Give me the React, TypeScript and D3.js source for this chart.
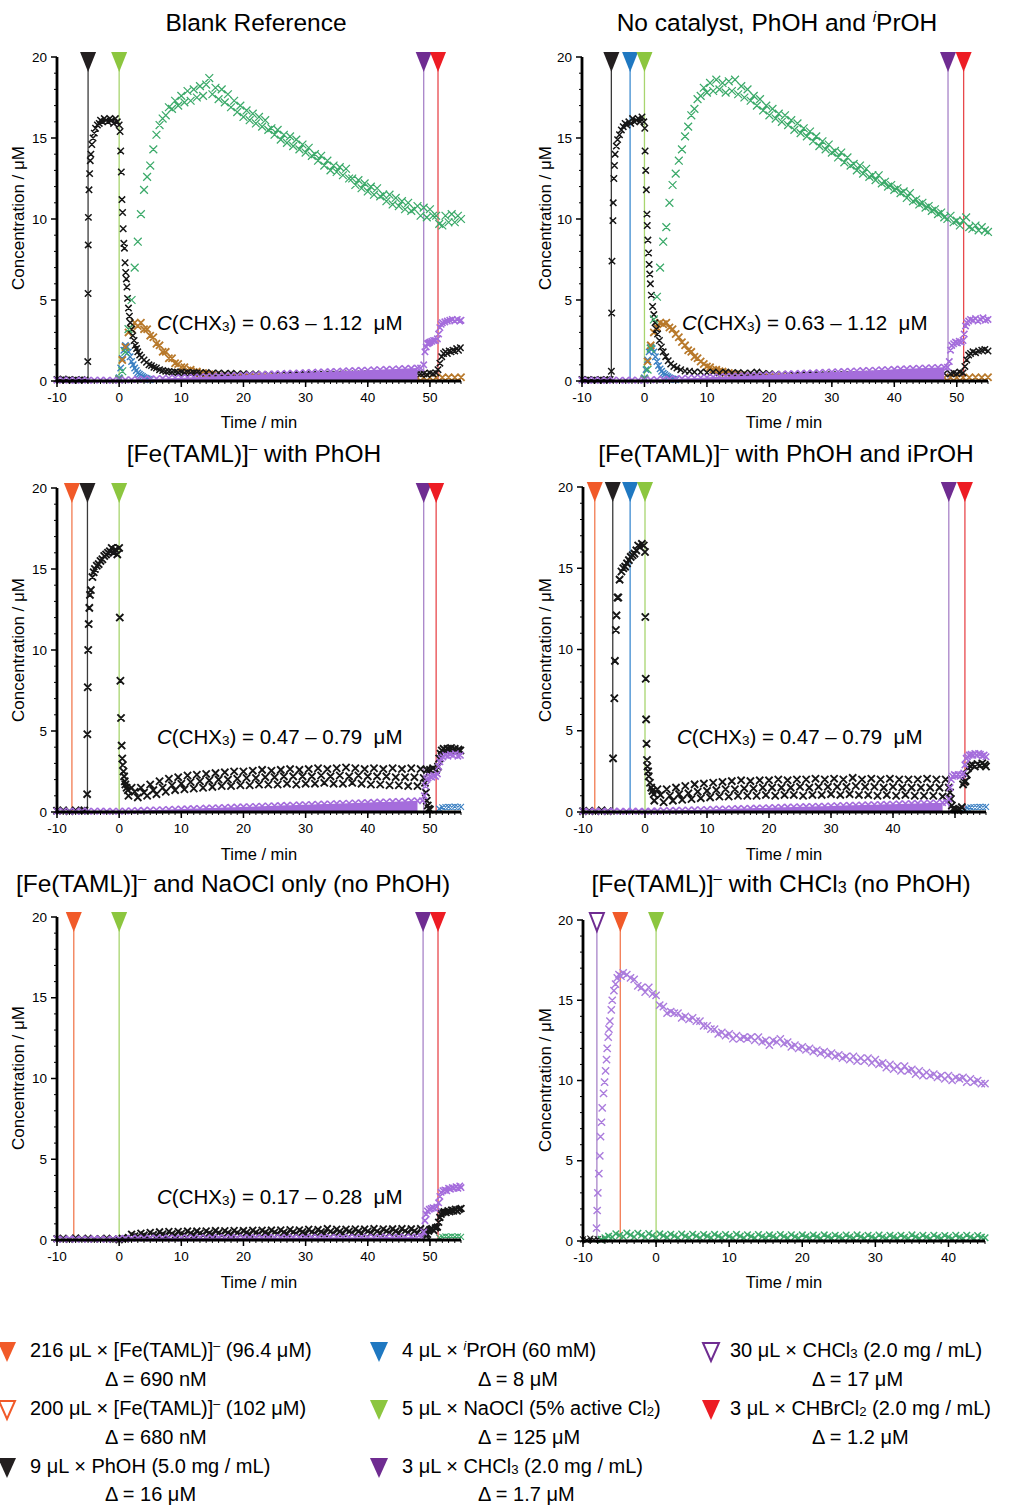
import React from "react";
import * as d3 from "d3";

type Pt = [number, number];

const grid = (t0: number, dt: number, ys: number[]): Pt[] => ys.map((y, i) => [t0 + i * dt, y] as Pt);

// ---------- Blank Reference ----------
const blankBlack: Pt[] = [
  [-10, 0.1], [-9.5, 0.05], [-9, 0.12], [-8.5, 0.06], [-8, 0.1], [-7.5, 0.05], [-7, 0.08], [-6.5, 0.05], [-6, 0.1], [-5.5, 0.06],
  [-5.05, 1.2], [-5, 5.4], [-4.98, 8.4], [-4.95, 10.1], [-4.85, 11.8], [-4.75, 12.8], [-4.65, 13.6], [-4.55, 14.0], [-4.4, 14.6],
  [-4.2, 15.0], [-4.0, 15.3], [-3.8, 15.6], [-3.5, 15.8], [-3.2, 15.9], [-3.0, 16.1], [-2.7, 16.0], [-2.4, 16.2], [-2.1, 16.1],
  [-1.8, 16.0], [-1.5, 16.2], [-1.2, 16.1], [-0.9, 15.9], [-0.6, 16.2], [-0.3, 16.0], [0, 15.8],
  [0.15, 15.4], [0.25, 14.2], [0.35, 12.9], [0.45, 11.2], [0.55, 10.4], [0.65, 9.4], [0.75, 8.5], [0.85, 8.2], [0.95, 7.3],
  [1.05, 6.7], [1.15, 6.3], [1.25, 5.8], [1.35, 5.1], [1.5, 4.5], [1.65, 4.0], [1.8, 3.6], [2.0, 3.2], [2.2, 2.8], [2.4, 2.5],
  [2.6, 2.2], [2.8, 2.0], [3.0, 1.8], [3.3, 1.6], [3.6, 1.45], [4.0, 1.3], [4.4, 1.15], [4.8, 1.0], [5.2, 0.95], [5.6, 0.85],
  [6.0, 0.8], [6.5, 0.7], [7.0, 0.65], [7.5, 0.6], [8, 0.58], [8.5, 0.55], [9, 0.56], [9.5, 0.52], [10, 0.55], [10.5, 0.5],
  [11, 0.54], [11.5, 0.5], [12, 0.52], [12.5, 0.5],
];
const blankBlackTail = grid(13, 1, [0.5, 0.52, 0.48, 0.5, 0.46, 0.48, 0.44, 0.45, 0.42, 0.43, 0.4, 0.41, 0.39, 0.4, 0.38, 0.39, 0.38, 0.4,
  0.39, 0.41, 0.4, 0.42, 0.41, 0.43, 0.42, 0.44, 0.43, 0.45, 0.44, 0.46, 0.45, 0.47, 0.46, 0.48, 0.47, 0.48]);
const blankBlackEnd: Pt[] = [[48.5, 0.45], [49, 0.45], [49.5, 0.4], [50, 0.5], [50.5, 0.45], [51, 0.5], [51.3, 0.7], [51.6, 1.1],
  [51.9, 1.5], [52.2, 1.7], [52.5, 1.8], [52.8, 1.7], [53.1, 1.85], [53.4, 1.8], [53.7, 1.9], [54, 1.85], [54.3, 2.0], [54.6, 1.9], [54.9, 2.05]];
const blankGreen = grid(0, 0.5, [0.1, 0.6, 1.8, 3.2, 5.0, 7.0, 8.6, 10.3, 11.8, 12.6,
  13.3, 14.3, 15.2, 15.8, 16.2, 16.4, 16.9, 16.8, 17.3, 17.0,
  17.6, 17.2, 17.9, 17.3, 18.0, 17.5, 18.2, 17.6, 18.3, 18.7,
  17.7, 18.1, 17.4, 18.0, 17.2, 17.7, 16.9, 17.3, 16.6, 17.0,
  16.3, 16.7, 16.1, 16.5, 15.9, 16.3, 15.7, 16.1, 15.5, 15.6,
  15.2, 15.5, 14.9, 15.2, 14.7, 15.1, 14.5, 14.9, 14.3, 14.6,
  14.1, 14.4, 13.9, 14.0, 13.6, 13.9, 13.3, 13.6, 13.0, 13.3,
  12.9, 13.2, 12.7, 13.1, 12.5, 12.5, 12.1, 12.4, 11.9, 12.2,
  11.7, 12.0, 11.5, 11.9, 11.4, 11.5, 11.1, 11.5, 10.9, 11.3,
  10.8, 11.1, 10.6, 11.0, 10.5, 10.6, 10.8, 10.2, 10.7, 10.1,
  10.6, 10.2, 10.2, 9.7, 9.6, 10.2, 9.8, 10.3, 9.8, 10.2, 10.0]);
const blankBrown = grid(0, 0.5, [0.1, 1.3, 2.1, 3.0, 3.2, 3.6, 3.4, 3.6, 3.2, 3.2, 2.8, 2.7, 2.3, 2.2, 1.8, 1.8, 1.4, 1.4, 1.1,
  1.05, 0.85, 0.85, 0.65, 0.7, 0.55, 0.58, 0.48, 0.5, 0.4, 0.42, 0.35, 0.36, 0.3, 0.32, 0.28, 0.3, 0.26]);
const blankBrownTail = grid(19, 1, [0.25, 0.24, 0.25, 0.23, 0.24, 0.22, 0.23, 0.22, 0.21, 0.22, 0.21, 0.2, 0.21, 0.2, 0.21, 0.2, 0.19,
  0.2, 0.21, 0.2, 0.19, 0.2, 0.21, 0.2, 0.2, 0.19, 0.2, 0.21, 0.2, 0.2, 0.21, 0.22, 0.21, 0.22, 0.23, 0.22, 0.23]);
const blankBlue = grid(0, 0.25, [0.2, 0.8, 1.4, 1.9, 2.2, 2.1, 1.8, 1.5, 1.2, 1.0, 0.8, 0.65, 0.5, 0.42, 0.35, 0.28, 0.22, 0.18, 0.14, 0.1, 0.08]);
const blankPurple = grid(-10, 1, [0.05, 0.06, 0.05, 0.04, 0.06, 0.05, 0.05, 0.06, 0.04, 0.05, 0.05,
  0.07, 0.08, 0.1, 0.11, 0.13, 0.14, 0.16, 0.17, 0.19, 0.2,
  0.22, 0.23, 0.25, 0.27, 0.28, 0.3, 0.31, 0.33, 0.34, 0.36,
  0.38, 0.39, 0.41, 0.42, 0.44, 0.45, 0.47, 0.48, 0.5, 0.52,
  0.53, 0.55, 0.56, 0.58, 0.59, 0.61, 0.63, 0.64, 0.66, 0.67,
  0.69, 0.7, 0.72, 0.73, 0.75, 0.77, 0.78, 0.8]);
const blankPurpleEnd: Pt[] = [[48.5, 0.8], [49, 1.0], [49.2, 1.8], [49.4, 2.1], [49.6, 2.3], [49.8, 2.35], [50, 2.4], [50.3, 2.45],
  [50.6, 2.5], [50.9, 2.5], [51.2, 2.6], [51.4, 2.9], [51.6, 3.3], [51.8, 3.5], [52, 3.6], [52.4, 3.65], [52.8, 3.7], [53.2, 3.75],
  [53.6, 3.8], [54, 3.7], [54.4, 3.8], [54.8, 3.7], [55, 3.75]];
const blankInj: [string, number][] = [["phoh", -5], ["naocl", 0], ["chcl3", 49], ["chbrcl2", 51.3]];

// ---------- No catalyst, PhOH and iPrOH ----------
const ncBlack: Pt[] = [
  [-10, 0.1], [-9.5, 0.05], [-9, 0.1], [-8.5, 0.05], [-8, 0.08], [-7.5, 0.05], [-7, 0.1], [-6.5, 0.05], [-6, 0.08], [-5.5, 0.1],
  [-5.3, 0.6], [-5.25, 4.2], [-5.2, 7.4], [-5.05, 9.9], [-5.0, 11.0], [-4.9, 12.5], [-4.8, 13.3], [-4.7, 14.0], [-4.5, 14.5],
  [-4.3, 14.9], [-4.0, 15.2], [-3.7, 15.5], [-3.4, 15.7], [-3.1, 15.9], [-2.8, 15.8], [-2.5, 16.0], [-2.2, 15.9], [-1.9, 16.2],
  [-1.6, 16.0], [-1.3, 16.1], [-1.0, 16.2], [-0.7, 16.0], [-0.4, 16.3], [-0.1, 16.0], [0.05, 15.6], [0.1, 14.2], [0.2, 13.0],
  [0.3, 11.8], [0.4, 10.3], [0.45, 9.6], [0.55, 8.7], [0.65, 7.9], [0.75, 7.2], [0.85, 6.6], [0.95, 6.0], [1.1, 5.3], [1.3, 4.6],
  [1.5, 4.1], [1.7, 3.6], [1.9, 3.2], [2.1, 2.9], [2.4, 2.5], [2.7, 2.1], [3.0, 1.8], [3.4, 1.5], [3.8, 1.25], [4.2, 1.05],
  [4.7, 0.9], [5.2, 0.8], [5.8, 0.7], [6.5, 0.62], [7.2, 0.6], [8, 0.55], [9, 0.55], [10, 0.52], [11, 0.55], [12, 0.5],
];
const ncBlackTail = grid(13, 1, [0.55, 0.5, 0.52, 0.48, 0.5, 0.55, 0.47, 0.45, 0.42, 0.4, 0.4, 0.38, 0.39, 0.37, 0.38, 0.37, 0.38,
  0.39, 0.38, 0.4, 0.39, 0.41, 0.4, 0.42, 0.41, 0.43, 0.42, 0.44, 0.43, 0.45, 0.44, 0.46, 0.45, 0.47, 0.46, 0.47]);
const ncBlackEnd: Pt[] = [[49, 0.45], [49.5, 0.5], [50, 0.45], [50.5, 0.55], [51, 0.5], [51.3, 0.9], [51.6, 1.3], [51.9, 1.6],
  [52.2, 1.7], [52.6, 1.8], [53, 1.75], [53.5, 1.85], [54, 1.9], [54.5, 1.95], [55, 1.85]];
const ncGreen = grid(0, 0.5, [0.1, 0.7, 2.0, 3.8, 5.2, 7.0, 8.6, 9.5, 11.0, 12.1,
  12.8, 13.6, 14.3, 15.1, 15.7, 16.4, 16.8, 17.4, 17.6, 18.1,
  17.8, 18.4, 17.9, 18.6, 18.0, 18.4, 17.8, 18.5, 17.9, 18.6,
  17.7, 18.2, 17.5, 18.0, 17.3, 17.6, 17.0, 17.4, 16.7, 17.0,
  16.4, 16.8, 16.2, 16.5, 16.0, 16.4, 15.8, 16.1, 15.5, 15.9,
  15.3, 15.6, 15.1, 15.4, 14.8, 15.1, 14.5, 14.8, 14.3, 14.6,
  14.1, 14.2, 13.8, 14.1, 13.5, 13.8, 13.3, 13.4, 13.0, 13.3,
  12.8, 13.1, 12.6, 12.7, 12.4, 12.7, 12.2, 12.3, 12.0, 12.1,
  11.8, 11.9, 11.6, 11.7, 11.3, 11.6, 11.1, 11.2, 10.9, 11.0,
  10.7, 10.8, 10.5, 10.6, 10.3, 10.4, 10.1, 10.0, 10.2, 9.8,
  9.9, 9.6, 9.9, 10.1, 9.5, 9.4, 9.6, 9.3, 9.5, 9.3, 9.2]);
const ncBrown = grid(0, 0.5, [0.1, 1.2, 2.2, 3.0, 3.3, 3.6, 3.5, 3.6, 3.3, 3.2, 2.9, 2.7, 2.4, 2.2, 1.9, 1.8, 1.5, 1.4, 1.2,
  1.05, 0.9, 0.85, 0.7, 0.7, 0.6, 0.58, 0.5, 0.5, 0.42, 0.42, 0.36, 0.36, 0.32, 0.32, 0.29, 0.3, 0.27]);
const ncBrownTail = grid(19, 1, [0.25, 0.24, 0.23, 0.24, 0.22, 0.23, 0.22, 0.21, 0.22, 0.2, 0.21, 0.2, 0.2, 0.21, 0.19, 0.2, 0.2,
  0.21, 0.2, 0.19, 0.2, 0.2, 0.21, 0.2, 0.19, 0.2, 0.21, 0.2, 0.21, 0.2, 0.22, 0.21, 0.22, 0.22, 0.23, 0.22, 0.23]);
const ncBlue = grid(0, 0.25, [0.2, 0.7, 1.3, 1.8, 2.1, 2.0, 1.8, 1.5, 1.2, 0.95, 0.75, 0.6, 0.48, 0.4, 0.32, 0.26, 0.2, 0.16, 0.12, 0.1, 0.08]);
const ncPurple = grid(-10, 1, [0.05, 0.05, 0.06, 0.04, 0.05, 0.06, 0.05, 0.04, 0.06, 0.05, 0.05,
  0.07, 0.09, 0.1, 0.12, 0.14, 0.15, 0.17, 0.19, 0.2, 0.22,
  0.24, 0.25, 0.27, 0.29, 0.3, 0.32, 0.34, 0.35, 0.37, 0.39,
  0.4, 0.42, 0.44, 0.45, 0.47, 0.49, 0.5, 0.52, 0.54, 0.55,
  0.57, 0.59, 0.6, 0.62, 0.64, 0.65, 0.67, 0.69, 0.7, 0.72,
  0.74, 0.75, 0.77, 0.79, 0.8, 0.82, 0.83, 0.85]);
const ncPurpleEnd: Pt[] = [[48.5, 0.85], [48.8, 1.2], [49, 1.9], [49.2, 2.2], [49.5, 2.3], [49.8, 2.4], [50.1, 2.35], [50.4, 2.45],
  [50.7, 2.4], [51, 2.5], [51.2, 2.9], [51.4, 3.4], [51.6, 3.6], [51.9, 3.7], [52.2, 3.8], [52.6, 3.75], [53, 3.85], [53.4, 3.7],
  [53.8, 3.8], [54.2, 3.9], [54.6, 3.75], [55, 3.8]];
const ncInj: [string, number][] = [["phoh", -5.3], ["iproh", -2.3], ["naocl", 0], ["chcl3", 48.6], ["chbrcl2", 51.1]];

// ---------- [Fe(TAML)]- with PhOH ----------
const feBlack: Pt[] = [
  [-10, 0.08], [-9, 0.1], [-8, 0.05], [-7, 0.1], [-6, 0.08], [-5.6, 0.1],
  [-5.15, 1.1], [-5.12, 4.8], [-5.05, 7.7], [-4.98, 10.0], [-4.9, 11.6], [-4.8, 12.6], [-4.7, 13.4], [-4.55, 13.7], [-4.3, 14.5],
  [-4.1, 14.8], [-3.9, 15.0], [-3.6, 15.2], [-3.3, 15.3], [-3.0, 15.5], [-2.7, 15.6], [-2.4, 15.8], [-2.1, 15.9], [-1.8, 16.0],
  [-1.5, 16.1], [-1.2, 16.3], [-0.9, 16.0], [-0.6, 16.2], [-0.3, 15.9], [0, 16.3],
  [0.1, 12.0], [0.2, 8.1], [0.3, 5.8], [0.4, 4.1], [0.5, 3.3], [0.6, 2.9], [0.7, 2.5], [0.8, 2.2], [0.9, 1.9], [1.0, 1.7],
  [1.2, 1.5], [1.4, 1.35],
];
const feBlackBand = grid(1.5, 0.5, [1.0, 1.5, 1.25, 0.9, 1.5, 1.2, 1.0, 1.7, 1.35, 1.1, 1.9, 1.5, 1.25, 2.05, 1.65, 1.35, 2.15, 1.75,
  1.4, 2.25, 1.85, 1.45, 2.3, 1.9, 1.5, 2.35, 1.95, 1.55, 2.4, 2.0, 1.6, 2.45, 2.0, 1.6, 2.5, 2.05, 1.65, 2.5, 2.1, 1.65, 2.55, 2.1,
  1.7, 2.6, 2.15, 1.7, 2.55, 2.15, 1.7, 2.6, 2.2, 1.75, 2.65, 2.2, 1.7, 2.6, 2.2, 1.75, 2.65, 2.2, 1.75, 2.7, 2.25, 1.8, 2.65, 2.2,
  1.75, 2.7, 2.25, 1.75, 2.75, 2.2, 1.8, 2.7, 2.25, 1.75, 2.65, 2.2, 1.7, 2.7, 2.2, 1.7, 2.65, 2.2, 1.65, 2.7, 2.15, 1.65, 2.65, 2.15,
  1.6, 2.7, 2.15, 1.6, 2.65, 2.1]);
const feBlackEnd: Pt[] = [[49.2, 1.8], [49.35, 1.2], [49.5, 0.7], [49.65, 0.4], [49.8, 0.2], [50, 0.15], [49.5, 2.6], [50, 2.6],
  [50.5, 2.7], [51, 2.6], [51.3, 2.8], [51.5, 3.3], [51.7, 3.6], [51.9, 3.8], [52.2, 3.9], [52.5, 3.8], [52.8, 3.9], [53.1, 3.85],
  [53.4, 3.95], [53.7, 3.8], [54, 3.9], [54.3, 3.75], [54.6, 3.85], [54.9, 3.8]];
const fePurple = grid(-10, 1, [0.05, 0.06, 0.05, 0.04, 0.06, 0.05, 0.05, 0.06, 0.04, 0.05, 0.05,
  0.06, 0.08, 0.09, 0.1, 0.12, 0.13, 0.14, 0.16, 0.17, 0.18,
  0.2, 0.21, 0.22, 0.24, 0.25, 0.26, 0.28, 0.29, 0.3, 0.32,
  0.33, 0.34, 0.36, 0.37, 0.38, 0.4, 0.41, 0.42, 0.44, 0.45,
  0.46, 0.48, 0.49, 0.5, 0.52, 0.53, 0.54, 0.56, 0.57, 0.58,
  0.6, 0.61, 0.62, 0.64, 0.65, 0.66, 0.68, 0.69]);
const fePurpleEnd: Pt[] = [[48.8, 0.7], [49.1, 1.0], [49.3, 1.6], [49.5, 2.0], [49.7, 2.1], [50, 2.2], [50.3, 2.15], [50.6, 2.25],
  [50.9, 2.2], [51.2, 2.35], [51.4, 2.8], [51.6, 3.1], [51.8, 3.3], [52.1, 3.4], [52.5, 3.5], [52.9, 3.45], [53.3, 3.55], [53.7, 3.5],
  [54.1, 3.6], [54.5, 3.45], [54.9, 3.5]];
const feTeal = grid(51.5, 0.5, [0.2, 0.28, 0.3, 0.32, 0.3, 0.33, 0.3, 0.32]);
const feInj: [string, number][] = [["fe216", -7.6], ["phoh", -5.1], ["naocl", 0], ["chcl3", 49], ["chbrcl2", 51]];

// ---------- [Fe(TAML)]- with PhOH and iPrOH ----------
const feIpBlack: Pt[] = [
  [-10, 0.05], [-9, 0.08], [-8, 0.05], [-7, 0.1], [-6, 0.05],
  [-5.15, 3.3], [-4.95, 7.0], [-4.85, 9.3], [-4.7, 11.2], [-4.6, 12.1], [-4.45, 13.2], [-4.3, 13.2], [-4.1, 14.3], [-3.8, 14.8],
  [-3.5, 15.0], [-3.2, 15.1], [-2.9, 15.3], [-2.6, 15.5], [-2.3, 15.7], [-2.0, 15.8], [-1.7, 15.9], [-1.4, 16.1], [-1.1, 16.4],
  [-0.8, 16.3], [-0.5, 16.5], [-0.2, 16.4], [0, 16.0],
  [0.05, 12.0], [0.12, 8.2], [0.18, 5.7], [0.25, 4.2], [0.32, 3.2], [0.4, 2.8], [0.5, 2.5], [0.6, 2.2], [0.8, 1.8], [1.0, 1.5],
  [1.2, 1.3], [1.4, 1.1],
];
const feIpBlackBand = grid(1.5, 0.5, [0.7, 1.4, 1.05, 0.6, 1.4, 1.0, 0.7, 1.5, 1.1, 0.75, 1.6, 1.15, 0.8, 1.7, 1.25, 0.85, 1.75, 1.3,
  0.9, 1.8, 1.35, 0.95, 1.85, 1.4, 0.95, 1.9, 1.4, 1.0, 1.95, 1.45, 1.0, 1.9, 1.45, 1.0, 1.95, 1.5, 1.05, 1.95, 1.5, 1.0, 2.0, 1.5,
  1.05, 1.95, 1.5, 1.05, 2.0, 1.55, 1.0, 2.0, 1.5, 1.05, 2.05, 1.55, 1.05, 2.0, 1.55, 1.1, 2.05, 1.55, 1.05, 2.0, 1.55, 1.1, 2.1, 1.6,
  1.05, 2.0, 1.55, 1.05, 2.05, 1.55, 1.0, 2.0, 1.5, 1.05, 2.05, 1.55, 1.0, 2.0, 1.5, 1.05, 2.0, 1.5, 1.0, 2.0, 1.5, 1.0, 2.05, 1.5,
  1.0, 2.0, 1.5, 0.95, 2.0, 1.5]);
const feIpBlackEnd: Pt[] = [[49.2, 1.2], [49.35, 0.8], [49.5, 0.4], [49.7, 0.2], [50, 0.15], [50.4, 0.12], [50.8, 0.15], [51.1, 0.3],
  [51.3, 1.7], [51.5, 1.85], [51.7, 1.9], [51.9, 2.3], [52.1, 2.7], [52.4, 2.85], [52.8, 2.9], [53.2, 2.8], [53.6, 2.95], [54, 2.85],
  [54.4, 3.0], [54.8, 2.9], [55, 2.8]];
const feIpPurple = grid(-10, 1, [0.05, 0.05, 0.06, 0.04, 0.05, 0.06, 0.05, 0.04, 0.06, 0.05, 0.05,
  0.06, 0.07, 0.08, 0.09, 0.1, 0.11, 0.12, 0.13, 0.14, 0.15,
  0.17, 0.18, 0.19, 0.2, 0.21, 0.22, 0.23, 0.24, 0.25, 0.26,
  0.28, 0.29, 0.3, 0.31, 0.32, 0.33, 0.34, 0.35, 0.36, 0.37,
  0.39, 0.4, 0.41, 0.42, 0.43, 0.44, 0.45, 0.46, 0.47, 0.48,
  0.5, 0.51, 0.52, 0.53, 0.54, 0.55, 0.56, 0.57]);
const feIpPurpleEnd: Pt[] = [[48.6, 0.6], [49, 0.8], [49.2, 1.5], [49.4, 2.0], [49.6, 2.2], [49.9, 2.3], [50.2, 2.25], [50.5, 2.3],
  [50.8, 2.2], [51.1, 2.3], [51.4, 2.4], [51.6, 2.9], [51.8, 3.3], [52, 3.4], [52.3, 3.5], [52.6, 3.55], [52.9, 3.5], [53.2, 3.6],
  [53.5, 3.5], [53.8, 3.6], [54.1, 3.55], [54.4, 3.45], [54.7, 3.5], [55, 3.4]];
const feIpTeal = grid(51.5, 0.5, [0.2, 0.25, 0.28, 0.3, 0.3, 0.32, 0.3, 0.32]);
const feIpInj: [string, number][] = [["fe216", -8.1], ["phoh", -5.2], ["iproh", -2.4], ["naocl", 0], ["chcl3", 49], ["chbrcl2", 51.6]];

// ---------- [Fe(TAML)]- and NaOCl only ----------
const feOnlyBlackPre = grid(-10, 1, [0.08, 0.1, 0.05, 0.12, 0.08, 0.1, 0.06, 0.08, 0.1, 0.05]);
const feOnlyBlack = grid(0, 0.5, [0.02, 0.1, 0.06, 0.15, 0.35, 0.25, 0.2, 0.42, 0.3, 0.22, 0.46, 0.33, 0.25, 0.5, 0.36, 0.27, 0.52, 0.38,
  0.28, 0.52, 0.4, 0.3, 0.55, 0.41, 0.3, 0.55, 0.42, 0.31, 0.56, 0.43, 0.32, 0.58, 0.44, 0.32, 0.57, 0.44, 0.33, 0.59, 0.45,
  0.34, 0.58, 0.46, 0.34, 0.6, 0.46, 0.35, 0.6, 0.47, 0.36, 0.61, 0.48, 0.36, 0.62, 0.48, 0.37, 0.63, 0.49, 0.37, 0.62, 0.5,
  0.38, 0.66, 0.5, 0.38, 0.64, 0.51, 0.39, 0.7, 0.52, 0.39, 0.66, 0.52, 0.4, 0.66, 0.53, 0.4, 0.68, 0.53, 0.41, 0.67, 0.54,
  0.41, 0.7, 0.54, 0.42, 0.68, 0.55, 0.42, 0.69, 0.55, 0.42, 0.7, 0.56, 0.43, 0.69, 0.56, 0.43, 0.7, 0.56]);
const feOnlyBlackEnd: Pt[] = [[49.2, 0.4], [49.4, 0.25], [49.6, 0.35], [49.8, 0.55], [50, 0.65], [50.3, 0.7], [50.6, 0.6], [50.9, 0.75],
  [51.2, 0.8], [51.4, 1.1], [51.6, 1.4], [51.8, 1.6], [52, 1.7], [52.3, 1.75], [52.6, 1.7], [52.9, 1.8], [53.2, 1.75], [53.5, 1.85],
  [53.8, 1.8], [54.1, 1.9], [54.4, 1.8], [54.7, 1.9], [55, 1.95]];
const feOnlyPurple = grid(-10, 1, [0.06, 0.05, 0.07, 0.05, 0.06, 0.05, 0.07, 0.06, 0.05, 0.06,
  0.08, 0.1, 0.1, 0.12, 0.11, 0.12, 0.13, 0.12, 0.13, 0.12,
  0.13, 0.14, 0.13, 0.14, 0.13, 0.14, 0.15, 0.14, 0.15, 0.14,
  0.15, 0.14, 0.15, 0.16, 0.15, 0.16, 0.15, 0.16, 0.15, 0.16,
  0.16, 0.17, 0.16, 0.17, 0.16, 0.17, 0.16, 0.17, 0.16, 0.17,
  0.17, 0.16, 0.17, 0.18, 0.17, 0.18, 0.17, 0.18, 0.17]);
const feOnlyPurpleEnd: Pt[] = [[48.6, 0.2], [49, 0.5], [49.2, 1.2], [49.4, 1.6], [49.6, 1.8], [49.9, 1.9], [50.2, 1.95], [50.5, 2.0],
  [50.8, 1.95], [51.1, 2.05], [51.4, 2.3], [51.6, 2.7], [51.8, 2.95], [52.1, 3.05], [52.4, 3.1], [52.7, 3.05], [53, 3.2], [53.3, 3.15],
  [53.6, 3.25], [53.9, 3.2], [54.2, 3.3], [54.5, 3.2], [54.8, 3.35], [55, 3.25]];
const feOnlyGreen = grid(51.5, 0.5, [0.15, 0.2, 0.22, 0.2, 0.22, 0.2, 0.22, 0.2]);
const feOnlyInj: [string, number][] = [["fe216", -7.3], ["naocl", 0], ["chcl3", 48.9], ["chbrcl2", 51.3]];

// ---------- [Fe(TAML)]- with CHCl3 ----------
const chBlack = grid(-10, 0.5, [0.1, 0.05, 0.15, 0.08, 0.12, 0.05, 0.1]);
const chPurpleRise: Pt[] = [[-8.15, 0.8], [-8.06, 1.9], [-7.97, 3.0], [-7.83, 4.2], [-7.7, 5.3], [-7.6, 6.5], [-7.47, 7.4], [-7.37, 8.3],
  [-7.19, 9.2], [-7.05, 9.9], [-6.91, 10.6], [-6.78, 11.3], [-6.69, 12.0], [-6.55, 12.7], [-6.45, 13.2], [-6.32, 13.7], [-6.13, 14.4],
  [-6.0, 15.0], [-5.77, 15.6], [-5.54, 16.0], [-5.31, 16.4], [-5.08, 16.6], [-4.8, 16.5], [-4.5, 16.7]];
const chPurple = grid(-4, 0.5, [16.6, 16.4, 16.3, 15.9, 15.8, 15.5, 15.8, 15.4, 15.3, 14.7,
  14.6, 14.2, 14.3, 14.2, 14.2, 13.9, 14.0, 13.8, 13.9, 13.7,
  13.7, 13.4, 13.4, 13.2, 13.2, 12.9, 13.0, 12.8, 12.9, 12.6,
  12.8, 12.6, 12.7, 12.6, 12.7, 12.5, 12.7, 12.4, 12.5, 12.2,
  12.5, 12.4, 12.6, 12.3, 12.4, 12.1, 12.2, 12.0, 12.1, 11.9,
  12.0, 11.8, 11.9, 11.7, 11.8, 11.6, 11.7, 11.5, 11.6, 11.4,
  11.5, 11.3, 11.5, 11.2, 11.4, 11.2, 11.4, 11.1, 11.3, 11.0,
  11.1, 10.8, 11.0, 10.7, 10.9, 10.6, 10.9, 10.6, 10.7, 10.4,
  10.6, 10.3, 10.5, 10.3, 10.4, 10.2, 10.3, 10.1, 10.3, 10.0,
  10.2, 10.1, 10.2, 9.9, 10.1, 9.9, 10.0, 9.8, 9.8]);
const chGreen = grid(-7.5, 0.5, [0.1, 0.2, 0.3, 0.25, 0.45, 0.35, 0.28, 0.5, 0.38, 0.25, 0.48, 0.36, 0.24, 0.46, 0.34, 0.22, 0.44, 0.33,
  0.23, 0.42, 0.32, 0.2, 0.43, 0.3, 0.22, 0.42, 0.31, 0.2, 0.4, 0.3, 0.21, 0.41, 0.3, 0.2, 0.4, 0.29, 0.19, 0.41, 0.3, 0.2, 0.39, 0.29,
  0.19, 0.4, 0.28, 0.2, 0.38, 0.29, 0.18, 0.4, 0.28, 0.19, 0.39, 0.27, 0.18, 0.38, 0.28, 0.19, 0.37, 0.27, 0.17, 0.38, 0.27, 0.18,
  0.36, 0.26, 0.17, 0.37, 0.26, 0.18, 0.38, 0.27, 0.17, 0.36, 0.26, 0.16, 0.37, 0.25, 0.17, 0.35, 0.26, 0.16, 0.36, 0.25, 0.17, 0.38,
  0.26, 0.16, 0.35, 0.25, 0.15, 0.36, 0.24, 0.16, 0.34, 0.25, 0.15, 0.35, 0.24, 0.16, 0.36, 0.25, 0.15, 0.34, 0.24, 0.2]);
const chInj: [string, number][] = [["chcl3big", -8.1], ["fe216", -4.9], ["naocl", 0]];

// ---------- legend ----------
const legendCols = [
  [["fe216", "216 μL × [Fe(TAML)]^{–} (96.4 μM)", "Δ = 690 nM"],
   ["fe200", "200 μL × [Fe(TAML)]^{–} (102 μM)", "Δ = 680 nM"],
   ["phoh", "9 μL × PhOH (5.0 mg / mL)", "Δ = 16 μM"]],
  [["iproh", "4 μL × ~{i}PrOH (60 mM)", "Δ = 8 μM"],
   ["naocl", "5 μL × NaOCl (5% active Cl_{2})", "Δ = 125 μM"],
   ["chcl3", "3 μL × CHCl_{3} (2.0 mg / mL)", "Δ = 1.7 μM"]],
  [["chcl3big", "30 μL × CHCl_{3} (2.0 mg / mL)", "Δ = 17 μM"],
   ["chbrcl2", "3 μL × CHBrCl_{2} (2.0 mg / mL)", "Δ = 1.2 μM"]],
];

// ---------- styles ----------
const FONT = "'Liberation Sans', Arial, Helvetica, sans-serif";
const BLACK = "#161616";
const GREEN = "#3caa6a";
const BROWN = "#b8792b";
const BLUE = "#3b80c3";
const PURPLE = "#a56ddc";
const PURPLE6 = "#ab7cdd";

const INJ: Record<string, { fill: string; line: string; hollow?: boolean }> = {
  fe216: { fill: "#f15a29", line: "#f27a50" },
  fe200: { fill: "#f15a29", line: "#f27a50", hollow: true },
  phoh: { fill: "#231f20", line: "#3a3a3a" },
  iproh: { fill: "#1f78c1", line: "#3d8bd0" },
  naocl: { fill: "#8cc63f", line: "#a8d56f" },
  chcl3: { fill: "#6f2c91", line: "#a883c8" },
  chcl3big: { fill: "#6f2c91", line: "#a883c8", hollow: true },
  chbrcl2: { fill: "#ed1c24", line: "#e8484c" },
};

type Series = { pts: Pt[]; color: string; s?: number; w?: number; area?: boolean };

const panels = [
  {
    title: "Blank Reference", tx: 256, ty: 31, xDomain: [-10, 55], xRange: [57, 461], yRange: [381, 57],
    labels: [-10, 0, 10, 20, 30, 40, 50], xt: [259, 428], yt: [24, 218], triOff: 5,
    note: "*{C}(CHX_{3}) = 0.63 – 1.12\u00a0\u00a0μM", nx: 157, ny: 330, inj: blankInj,
    series: [
      { pts: blankBlue, color: BLUE, s: 3.2, w: 1.4 },
      { pts: [...blankBrown, ...blankBrownTail], color: BROWN, s: 3.6, w: 1.8 },
      { pts: [...blankBlack, ...blankBlackTail, ...blankBlackEnd], color: BLACK, s: 3.2, w: 1.5 },
      { pts: blankGreen, color: GREEN, s: 3.9, w: 1.25 },
      { pts: blankPurple, color: PURPLE, area: true },
      { pts: [...blankPurple, ...blankPurpleEnd], color: PURPLE, s: 3.2, w: 1.6 },
    ] as Series[],
  },
  {
    title: "No catalyst, PhOH and ~{i}PrOH", tx: 777, ty: 31, xDomain: [-10, 55], xRange: [582, 988], yRange: [381, 57],
    labels: [-10, 0, 10, 20, 30, 40, 50], xt: [784, 428], yt: [551, 218], triOff: 5,
    note: "*{C}(CHX_{3}) = 0.63 – 1.12\u00a0\u00a0μM", nx: 682, ny: 330, inj: ncInj,
    series: [
      { pts: ncBlue, color: BLUE, s: 3.2, w: 1.4 },
      { pts: [...ncBrown, ...ncBrownTail], color: BROWN, s: 3.6, w: 1.8 },
      { pts: [...ncBlack, ...ncBlackTail, ...ncBlackEnd], color: BLACK, s: 3.2, w: 1.5 },
      { pts: ncGreen, color: GREEN, s: 3.9, w: 1.25 },
      { pts: ncPurple, color: PURPLE, area: true },
      { pts: [...ncPurple, ...ncPurpleEnd], color: PURPLE, s: 3.2, w: 1.6 },
    ] as Series[],
  },
  {
    title: "[Fe(TAML)]^{–} with PhOH", tx: 254, ty: 462, xDomain: [-10, 55], xRange: [57, 461], yRange: [812, 488],
    labels: [-10, 0, 10, 20, 30, 40, 50], xt: [259, 860], yt: [24, 650], triOff: 5,
    note: "*{C}(CHX_{3}) = 0.47 – 0.79\u00a0\u00a0μM", nx: 157, ny: 744, inj: feInj,
    series: [
      { pts: feTeal, color: BLUE, s: 3 },
      { pts: [...feBlack, ...feBlackBand, ...feBlackEnd], color: BLACK, s: 3.6, w: 1.9 },
      { pts: fePurple, color: PURPLE, area: true },
      { pts: [...fePurple, ...fePurpleEnd], color: PURPLE, s: 3.2, w: 1.6 },
    ] as Series[],
  },
  {
    title: "[Fe(TAML)]^{–} with PhOH and iPrOH", tx: 786, ty: 462, xDomain: [-10, 55], xRange: [583, 986], yRange: [812, 487],
    labels: [-10, 0, 10, 20, 30, 40], xt: [784, 860], yt: [551, 650], triOff: 5,
    note: "*{C}(CHX_{3}) = 0.47 – 0.79\u00a0\u00a0μM", nx: 677, ny: 744, inj: feIpInj,
    series: [
      { pts: feIpTeal, color: BLUE, s: 3 },
      { pts: [...feIpBlack, ...feIpBlackBand, ...feIpBlackEnd], color: BLACK, s: 3.6, w: 1.9 },
      { pts: feIpPurple, color: PURPLE, area: true },
      { pts: [...feIpPurple, ...feIpPurpleEnd], color: PURPLE, s: 3.2, w: 1.6 },
    ] as Series[],
  },
  {
    title: "[Fe(TAML)]^{–} and NaOCl only (no PhOH)", tx: 233, ty: 892, xDomain: [-10, 55], xRange: [57, 461], yRange: [1240, 917],
    labels: [-10, 0, 10, 20, 30, 40, 50], xt: [259, 1288], yt: [24, 1078], triOff: 5,
    note: "*{C}(CHX_{3}) = 0.17 – 0.28\u00a0\u00a0μM", nx: 157, ny: 1204, inj: feOnlyInj,
    series: [
      { pts: feOnlyGreen, color: GREEN, s: 3 },
      { pts: [...feOnlyBlackPre, ...feOnlyBlack, ...feOnlyBlackEnd], color: BLACK, s: 3.4, w: 1.9 },
      { pts: feOnlyPurple, color: PURPLE, area: true },
      { pts: [...feOnlyPurple, ...feOnlyPurpleEnd], color: PURPLE, s: 3.2, w: 1.6 },
    ] as Series[],
  },
  {
    title: "[Fe(TAML)]^{–} with CHCl_{3} (no PhOH)", tx: 781, ty: 892, xDomain: [-10, 45], xRange: [583, 985], yRange: [1241, 920],
    labels: [-10, 0, 10, 20, 30, 40], xt: [784, 1288], yt: [551, 1080], triOff: 8,
    note: "", nx: 0, ny: 0, inj: chInj,
    series: [
      { pts: chBlack, color: BLACK, s: 3 },
      { pts: chGreen, color: GREEN, s: 3.3, w: 1.5 },
      { pts: [...chPurpleRise, ...chPurple], color: PURPLE6, s: 3.6, w: 1.4 },
    ] as Series[],
  },
];

// text with ^{sup} _{sub} *{italic} ~{italic sup}
function Rich({ text, size, ...rest }: any) {
  const parts = text.split(/([\^_*~]\{[^}]*\})/).filter((s: string) => s.length);
  let shift = 0;
  return (
    <text {...rest} fontSize={size} style={{ whiteSpace: "pre" }}>
      {parts.map((s: string, i: number) => {
        const m = s.match(/^([\^_*~])\{(.*)\}$/);
        const kind = m ? m[1] : "n";
        const body = m ? m[2] : s;
        const up = kind === "^" || kind === "~";
        const target = up ? -size * 0.36 : kind === "_" ? size * 0.06 : 0;
        const fs = up ? size * 0.62 : kind === "_" ? size * 0.66 : size;
        const dy = target - shift;
        shift = target;
        return (
          <tspan key={i} dy={dy || undefined} fontSize={fs} fontStyle={kind === "*" || kind === "~" ? "italic" : undefined}>
            {body}
          </tspan>
        );
      })}
    </text>
  );
}

const triPath = (cx: number, top: number, w: number, h: number) => `M${cx - w / 2},${top}L${cx + w / 2},${top}L${cx},${top + h}Z`;

function Tri({ kind, cx, top, w = 16, h = 20 }: { kind: string; cx: number; top: number; w?: number; h?: number }) {
  const st = INJ[kind];
  return st.hollow ? (
    <path d={triPath(cx, top + 1, w - 2, h - 2)} fill="white" stroke={st.fill} strokeWidth={2} strokeLinejoin="miter" />
  ) : (
    <path d={triPath(cx, top, w, h)} fill={st.fill} />
  );
}

function Panel({ p }: { p: (typeof panels)[number] }) {
  const sx = d3.scaleLinear().domain(p.xDomain).range(p.xRange);
  const sy = d3.scaleLinear().domain([0, 20]).range(p.yRange);
  const [y0, y20] = p.yRange;
  const [xa, xb] = p.xRange;
  const triTop = y20 - p.triOff;
  const xPath = (pts: Pt[], s: number) =>
    pts
      .map(([t, v]) => {
        const X = sx(t), Y = sy(v);
        return `M${X - s},${Y - s}L${X + s},${Y + s}M${X - s},${Y + s}L${X + s},${Y - s}`;
      })
      .join("");
  const area = d3.area<Pt>().x((d) => sx(d[0])).y0(sy(0)).y1((d) => sy(d[1]));
  const majorX = d3.range(p.xDomain[0], p.xDomain[1] + 0.1, 10);
  const minorX = d3.range(p.xDomain[0], p.xDomain[1] + 0.1, 1);
  return (
    <g>
      {p.inj.map(([k, t], i) => (
        <line key={i} x1={sx(t)} x2={sx(t)} y1={triTop + 18} y2={y0} stroke={INJ[k].line} strokeWidth={1.3} />
      ))}
      {p.series.map((s, i) =>
        s.area ? (
          <path key={i} d={area(s.pts) ?? ""} fill={s.color} />
        ) : (
          <path key={i} d={xPath(s.pts, s.s ?? 2.6)} stroke={s.color} strokeWidth={s.w ?? 1.1} fill="none" />
        )
      )}
      {/* axes */}
      {minorX.map((t) => (
        <line key={"mx" + t} x1={sx(t)} x2={sx(t)} y1={y0} y2={y0 + 3} stroke="#000" strokeWidth={1} />
      ))}
      {majorX.map((t) => (
        <line key={"Mx" + t} x1={sx(t)} x2={sx(t)} y1={y0} y2={y0 + 6} stroke="#000" strokeWidth={1.5} />
      ))}
      {d3.range(0, 21, 1).map((v) => (
        <line key={"my" + v} x1={xa - (v % 5 === 0 ? 6 : 3)} x2={xa} y1={sy(v)} y2={sy(v)} stroke="#000" strokeWidth={v % 5 === 0 ? 1.5 : 1} />
      ))}
      <line x1={xa} x2={xb} y1={y0} y2={y0} stroke="#000" strokeWidth={2.8} />
      <line x1={xa} x2={xa} y1={y0 + 1.4} y2={y20} stroke="#000" strokeWidth={2.8} />
      {p.labels.map((t) => (
        <text key={"lx" + t} x={sx(t)} y={y0 + 21} fontSize={13.5} textAnchor="middle">{t}</text>
      ))}
      {sy.ticks(4).map((v) => (
        <text key={"ly" + v} x={xa - 10} y={sy(v) + 4.5} fontSize={13.5} textAnchor="end">{v}</text>
      ))}
      {p.inj.map(([k, t], i) => (
        <Tri key={"t" + i} kind={k} cx={sx(t)} top={triTop} />
      ))}
      <text x={p.xt[0]} y={p.xt[1]} fontSize={16.5} textAnchor="middle">Time / min</text>
      <text transform={`translate(${p.yt[0]},${p.yt[1]}) rotate(-90)`} fontSize={17} textAnchor="middle">Concentration / μM</text>
      <Rich text={p.title} size={24.5} x={p.tx} y={p.ty} textAnchor="middle" />
      {p.note && <Rich text={p.note} size={20.5} x={p.nx} y={p.ny} />}
    </g>
  );
}

const colX = [{ tri: 7, text: 30, delta: 105 }, { tri: 379, text: 402, delta: 478 }, { tri: 711, text: 730, delta: 812 }];

export default function App() {
  return (
    <svg width={1010} height={1505} style={{ position: "absolute", left: 0, top: 0, background: "#fff" }} fontFamily={FONT} fill="#000">
      {panels.map((p, i) => (
        <Panel key={i} p={p} />
      ))}
      {legendCols.map((col, ci) =>
        col.map(([k, label, delta], ri) => (
          <g key={ci + "-" + ri}>
            <Tri kind={k} cx={colX[ci].tri} top={1342 + ri * 58} w={18} h={20} />
            <Rich text={label} size={20} x={colX[ci].text} y={1357 + ri * 58} />
            <text x={colX[ci].delta} y={1386 + ri * 57.5} fontSize={20}>{delta}</text>
          </g>
        ))
      )}
    </svg>
  );
}
